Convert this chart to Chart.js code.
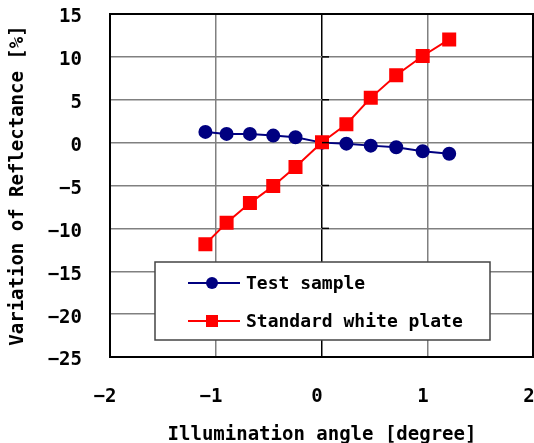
<!DOCTYPE html>
<html><head><meta charset="utf-8">
<script src="https://cdn.jsdelivr.net/npm/chart.js@4.4.1/dist/chart.umd.min.js"></script>
<style>html,body{margin:0;padding:0;background:#fff}#w{width:534px;height:443px}</style>
</head><body><div id="w"><canvas id="c" width="534" height="443"></canvas></div>
<script>
const seriesNames = ['Test sample', 'Standard white plate'];
const angles = [-1.10, -0.90, -0.68, -0.46, -0.25, 0.00, 0.23, 0.46, 0.70, 0.95, 1.20];
const testSample = [1.25, 1.02, 1.02, 0.82, 0.62, 0.00, -0.12, -0.35, -0.54, -1.01, -1.29];
const whitePlate = [-11.84, -9.35, -7.05, -5.06, -2.84, 0.05, 2.14, 5.22, 7.86, 10.10, 12.03];
const xTicks = [-2, -1, 0, 1, 2];
const yTicks = [15, 10, 5, 0, -5, -10, -15, -20, -25];
const xTitle = 'Illumination angle [degree]';
const yTitle = 'Variation of Reflectance [%]';

const FONT = { family: '"DejaVu Sans Mono", monospace', size: 19, weight: 'bold' };
const fmt = v => (v < 0 ? '\u2212' + Math.abs(v) : String(v));
const BLUE = '#000080', RED = '#ff0000';

function noPad(s) { s.paddingTop = 0; s.paddingBottom = 0; s.paddingLeft = 0; s.paddingRight = 0; }

const framePlugin = {
  id: 'frame',
  afterDatasetsDraw(chart) {
    const { ctx, chartArea: a, scales } = chart;
    ctx.save();
    const x0 = scales.x.getPixelForValue(0);
    ctx.strokeStyle = '#000'; ctx.lineWidth = 1.5;
    yTicks.forEach(v => {
      const y = scales.y.getPixelForValue(v);
      ctx.beginPath(); ctx.moveTo(x0, y); ctx.lineTo(x0 + 7, y); ctx.stroke();
    });
    ctx.lineWidth = 2; ctx.strokeStyle = '#000';
    ctx.strokeRect(a.left, a.top, a.right - a.left - 1, a.bottom - a.top);
    ctx.restore();
  },
  afterDraw(chart) {
    const { ctx } = chart;
    ctx.save();
    const bx = 155, by = 262, bw = 335, bh = 78;
    ctx.fillStyle = '#fff'; ctx.fillRect(bx, by, bw, bh);
    ctx.strokeStyle = '#444'; ctx.lineWidth = 1.5; ctx.strokeRect(bx, by, bw, bh);
    const entries = [
      { name: seriesNames[0], color: BLUE, shape: 'circle', y: 283 },
      { name: seriesNames[1], color: RED, shape: 'rect', y: 321 }
    ];
    entries.forEach(e => {
      ctx.strokeStyle = e.color; ctx.lineWidth = 2;
      ctx.beginPath(); ctx.moveTo(188, e.y); ctx.lineTo(240, e.y); ctx.stroke();
      ctx.fillStyle = e.color;
      if (e.shape === 'circle') { ctx.beginPath(); ctx.arc(212, e.y, 6, 0, Math.PI * 2); ctx.fill(); }
      else { ctx.fillRect(206, e.y - 6, 12, 12); }
      ctx.fillStyle = '#000';
      ctx.font = 'bold 18px "DejaVu Sans Mono", monospace';
      ctx.textBaseline = 'middle'; ctx.textAlign = 'left';
      ctx.fillText(e.name, 246, e.y + 1);
    });
    ctx.restore();
  }
};

new Chart(document.getElementById('c'), {
  type: 'scatter',
  data: {
    datasets: [
      { label: seriesNames[1], data: angles.map((x, i) => ({ x, y: whitePlate[i] })),
        showLine: true, borderColor: RED, backgroundColor: RED, borderWidth: 2,
        pointStyle: 'rect', pointRadius: 8.5, pointHoverRadius: 8.5, order: 0 },
      { label: seriesNames[0], data: angles.map((x, i) => ({ x, y: testSample[i] })),
        showLine: true, borderColor: BLUE, backgroundColor: BLUE, borderWidth: 2,
        pointStyle: 'circle', pointRadius: 6, pointHoverRadius: 6, order: 1 }
    ]
  },
  options: {
    responsive: false, animation: false,
    layout: { autoPadding: false, padding: { top: 14, left: 0, right: 0, bottom: 0 } },
    plugins: { legend: { display: false }, tooltip: { enabled: false } },
    scales: {
      x: {
        type: 'linear', min: -2, max: 2,
        afterBuildTicks: s => { s.ticks = xTicks.map(v => ({ value: v })); },
        afterFit: s => { s.height = 86; noPad(s); },
        grid: { color: c => (c.tick && c.tick.value === 0 ? '#000' : '#808080'), lineWidth: 1.5, drawTicks: false },
        border: { display: false },
        ticks: { font: FONT, color: '#000', padding: 29, labelOffset: -5, maxRotation: 0, autoSkip: false, callback: fmt },
        title: { display: true, text: xTitle, font: FONT, color: '#000', padding: { top: 0, bottom: -3 } }
      },
      y: {
        type: 'linear', min: -25, max: 15,
        afterBuildTicks: s => { s.ticks = yTicks.map(v => ({ value: v })); },
        afterFit: s => { s.width = 110; noPad(s); },
        grid: { color: '#808080', lineWidth: 1.5, drawTicks: false },
        border: { display: false },
        ticks: { font: FONT, color: '#000', padding: 28, labelOffset: 3.5, autoSkip: false, callback: fmt },
        title: { display: true, text: yTitle, font: FONT, color: '#000', padding: { top: 7, bottom: 0 } }
      }
    }
  },
  plugins: [framePlugin]
});
</script>
</body></html>
